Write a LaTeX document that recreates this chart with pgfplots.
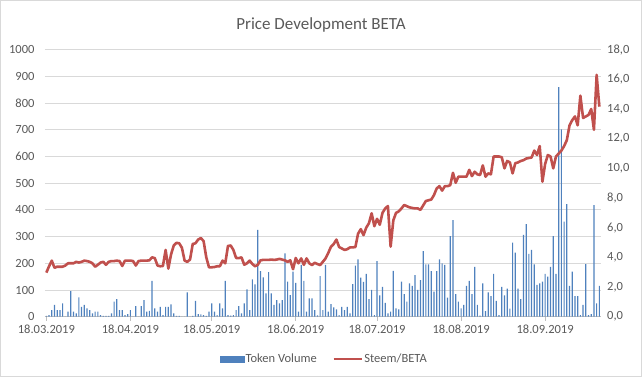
\documentclass[border=0pt]{standalone}
\usepackage{fontspec}
\setmainfont{Carlito}
\usepackage{pgfplots}
\usepackage{pgfplotstable}
\pgfplotsset{compat=1.18}
\definecolor{barblue}{HTML}{4F81BD}
\definecolor{linered}{HTML}{C0504D}
\definecolor{txt}{HTML}{595959}
\definecolor{gridc}{HTML}{D9D9D9}
\definecolor{axc}{HTML}{BFBFBF}

\pgfplotstableread{
d v p
0 3 2.97
1 6 3.40
2 25 3.78
3 44 3.30
4 25 3.37
5 25 3.37
6 50 3.37
7 0 3.45
8 19 3.60
9 96 3.60
10 19 3.60
11 12 3.70
12 72 3.65
13 37 3.70
14 44 3.78
15 31 3.75
16 25 3.70
17 12 3.60
18 19 3.37
19 19 3.50
20 6 3.65
21 3 3.70
22 3 3.50
23 3 3.70
24 12 3.75
25 56 3.75
26 66 3.78
27 25 3.75
28 25 3.42
29 6 3.78
30 10 3.78
31 25 3.78
32 0 3.75
33 40 3.45
34 0 3.75
35 40 3.78
36 62 3.78
37 19 3.78
38 22 3.80
39 134 4.00
40 31 3.95
41 19 3.45
42 37 3.40
43 6 3.42
44 37 4.50
45 37 3.24
46 46 4.20
47 12 4.80
48 3 4.98
49 3 4.95
50 0 4.65
51 0 3.78
52 91 3.70
53 0 3.85
54 3 4.90
55 59 4.95
56 10 5.20
57 9 5.30
58 6 5.10
59 3 4.00
60 19 3.33
61 50 3.33
62 19 3.35
63 6 3.40
64 50 3.40
65 31 3.78
66 134 3.60
67 6 4.77
68 4 4.80
69 6 4.50
70 25 3.96
71 40 3.95
72 12 4.00
73 50 3.50
74 102 3.60
75 25 3.78
76 140 3.55
77 121 3.40
78 325 3.50
79 171 3.80
80 147 3.83
81 87 3.83
82 167 3.83
83 87 3.85
84 44 3.83
85 62 3.85
86 50 3.90
87 62 3.85
88 237 3.80
89 131 3.70
90 81 3.80
91 169 3.20
92 127 3.96
93 19 3.60
94 194 3.93
95 134 3.50
96 19 3.93
97 69 3.60
98 69 3.48
99 25 3.64
100 5 3.55
101 152 3.48
102 25 3.70
103 194 3.93
104 19 4.30
105 47 4.72
106 35 4.90
107 27 5.20
108 6 4.70
109 37 4.60
110 25 4.50
111 37 4.55
112 12 4.67
113 122 4.67
114 191 4.70
115 215 5.60
116 146 5.90
117 130 5.50
118 160 6.00
119 66 6.30
120 100 6.97
121 6 6.10
122 208 6.60
123 80 6.20
124 112 7.00
125 52 7.30
126 12 7.46
127 19 4.72
128 172 6.50
129 31 7.00
130 27 7.10
131 131 7.30
132 85 7.53
133 56 7.45
134 125 7.37
135 115 7.33
136 156 7.30
137 100 7.30
138 137 7.20
139 246 7.50
140 196 7.80
141 196 7.85
142 171 7.90
143 94 8.20
144 171 8.65
145 215 8.80
146 200 8.50
147 194 8.80
148 71 8.80
149 302 8.87
150 362 9.70
151 85 9.03
152 56 9.44
153 31 9.44
154 44 9.44
155 115 9.44
156 134 9.90
157 85 9.48
158 187 9.77
159 44 9.60
160 4 9.55
161 125 10.20
162 21 9.44
163 91 9.66
164 77 9.60
165 160 10.80
166 59 10.80
167 6 10.80
168 112 10.75
169 80 10.00
170 105 10.50
171 30 10.40
172 277 9.66
173 240 10.35
174 105 10.40
175 66 10.50
176 306 10.55
177 347 10.66
178 235 10.70
179 250 10.73
180 196 11.20
181 119 10.90
182 125 11.50
183 131 9.10
184 160 10.30
185 150 10.90
186 187 10.80
187 302 10.00
188 160 10.80
189 860 11.00
190 702 11.20
191 356 11.50
192 422 11.90
193 115 12.90
194 169 13.25
195 77 13.50
196 77 12.90
197 6 14.90
198 44 13.40
199 197 13.50
200 6 13.60
201 10 14.00
202 418 12.60
203 50 16.30
204 115 14.16
}\data

\begin{document}
\begin{tikzpicture}
\begin{axis}[
  at={(0pt,0pt)}, anchor=south west, scale only axis,
  width=555.7pt, height=267pt,
  xmin=-0.5, xmax=204.5, ymin=0, ymax=1000,
  ytick={0,100,...,1000},
  xtick={0,31,61,92,122,153,184},
  xticklabels={18.03.2019,18.04.2019,18.05.2019,18.06.2019,18.07.2019,18.08.2019,18.09.2019},
  axis y line*=left, axis x line*=bottom,
  y axis line style={draw=none},
  x axis line style={draw=axc, line width=0.8pt, -},
  ymajorgrids, grid style={gridc, line width=0.8pt},
  ytick style={draw=none},
  xtick style={draw=axc, line width=0.8pt},
  tick align=outside, major tick length=4pt,
  /pgf/number format/1000 sep={},
  /pgf/number format/assume math mode=true,
  ticklabel style={font=\fontsize{12.5}{14}\selectfont, text=txt},
  yticklabel style={xshift=-3pt},
  xticklabel style={yshift=-1pt},
]
\addplot[ybar, bar width=1.2pt, fill=barblue, draw=none] table[x=d, y=v] {\data};
\end{axis}

\begin{axis}[
  at={(0pt,0pt)}, anchor=south west, scale only axis,
  width=555.7pt, height=267pt,
  xmin=-0.5, xmax=204.5, ymin=0, ymax=18,
  ytick={0,2,...,18},
  axis y line*=right, axis x line=none,
  y axis line style={draw=none},
  ytick style={draw=none},
  /pgf/number format/fixed,
  /pgf/number format/fixed zerofill,
  /pgf/number format/precision=1,
  /pgf/number format/use comma,
  /pgf/number format/assume math mode=true,
  ticklabel style={font=\fontsize{12.5}{14}\selectfont, text=txt},
  yticklabel style={xshift=3pt},
  legend style={at={(0.502,-0.158)}, anchor=center, draw=none, fill=none,
    legend columns=2, font=\fontsize{12.5}{14}\selectfont, text=txt,
    /tikz/every even column/.append style={column sep=14pt},
    inner sep=0pt, nodes={inner sep=1.5pt}},
]
\addlegendimage{legend image code/.code={\fill[barblue] (0pt,-3pt) rectangle (24pt,3pt);}}
\addplot[linered, line width=2.6pt, line join=round,
  legend image code/.code={\draw[linered, line width=2.6pt] (0pt,0pt) -- (28pt,0pt);}]
  table[x=d, y=p] {\data};
\legend{Token Volume, Steem/BETA}
\end{axis}
\node[font=\fontsize{17}{20}\selectfont, text=txt] at (276pt,291.7pt) {Price Development BETA};
\pgfresetboundingbox
\draw[gridc] (-44.5pt,-59.8pt) rectangle (596.5pt,316.2pt);
\useasboundingbox (-45pt,-60.3pt) rectangle (597pt,316.7pt);
\end{tikzpicture}
\end{document}
